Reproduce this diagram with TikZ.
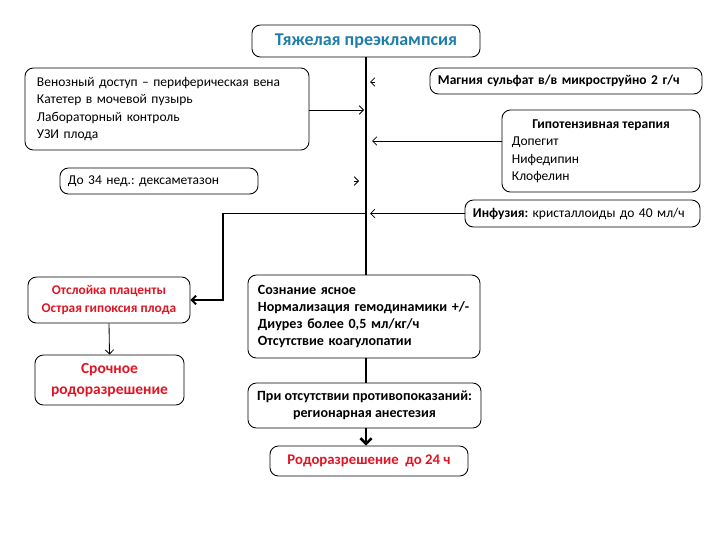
\documentclass[tikz,border=0pt]{standalone}
\usepackage{fontspec}
\setmainfont{Carlito}
\usetikzlibrary{arrows.meta}
\frenchspacing

\definecolor{titleblue}{RGB}{31,125,170}
\definecolor{alarmred}{RGB}{225,20,35}

\begin{document}
\begin{tikzpicture}[x=0.025cm, y=-0.025cm,
    >={Straight Barb[length=3pt,width=6pt]},
    box/.style={draw, rounded corners=6pt, line width=0.6pt, inner ysep=0pt},
    txt/.style={font=\fontsize{9.6}{12.2}\selectfont},
    link/.style={line width=0.6pt, ->},
    trunk/.style={line width=1.8pt},
    branch/.style={line width=1.4pt, ->}]
  \useasboundingbox (0,0) rectangle (720,540);

  \node[box, minimum width=5.7cm, minimum height=0.8cm, text=titleblue,
        font=\fontsize{12.8}{15}\selectfont\bfseries] (title) at (366,41) {Тяжелая преэклампсия};

  % left column
  \node[box, txt, text width=6.5cm, inner xsep=0.3cm, minimum height=2.05cm, align=left] (venous) at (167,109)
    {Венозный доступ -- периферическая вена\\Катетер в мочевой пузырь\\Лабораторный контроль\\УЗИ плода};
  \node[box, txt, text width=4.55cm, inner xsep=0.2cm, minimum height=0.65cm, align=left] (dexa) at (159,181)
    {До 34 нед.: дексаметазон};

  % right column
  \node[box, txt, text width=6.4cm, inner xsep=0.2cm, minimum height=0.65cm, align=left, font=\fontsize{9.6}{12.2}\selectfont\bfseries] (magnesium) at (566,81)
    {Магния сульфат в/в микроструйно 2 г/ч};
  \node[box, txt, inner xsep=0.25cm, minimum width=4.95cm, minimum height=2.05cm] (hypo) at (601,151)
    {\begin{tabular}{@{}p{4.45cm}@{}}\multicolumn{1}{@{}c@{}}{\bfseries Гипотензивная терапия}\\ Допегит\\ Нифедипин\\ Клофелин\end{tabular}};
  \node[box, txt, text width=5.475cm, inner xsep=0.2cm, minimum height=0.675cm, align=left] (infusion) at (582.5,213.5)
    {\textbf{Инфузия:} кристаллоиды до 40 мл/ч};

  % emergency branch
  \node[box, minimum width=4.05cm, minimum height=1.15cm, align=center, text=alarmred,
        font=\fontsize{9.5}{12.5}\selectfont\bfseries] (abruption) at (109,300)
    {Отслойка плаценты\\Острая гипоксия плода};
  \node[box, minimum width=3.725cm, minimum height=1.25cm, align=center, text=alarmred,
        font=\fontsize{11}{14.5}\selectfont\bfseries] (urgent) at (109.5,380)
    {Срочное\\родоразрешение};

  % main branch
  \node[box, txt, text width=5.3cm, inner xsep=0.25cm, minimum height=2.075cm, align=left,
        font=\fontsize{10}{12.2}\selectfont\bfseries] (status) at (364,316.5)
    {Сознание ясное\\Нормализация гемодинамики +/-\\Диурез более 0,5 мл/кг/ч\\Отсутствие коагулопатии};
  \node[box, minimum width=5.825cm, minimum height=1.125cm, align=center,
        font=\fontsize{10}{12.5}\selectfont\bfseries] (anest) at (364.5,405.5)
    {При отсутствии противопоказаний:\\регионарная анестезия};
  \node[box, minimum width=4.95cm, minimum height=0.75cm, text=alarmred,
        font=\fontsize{10.5}{12.5}\selectfont\bfseries] (delivery) at (369,461)
    {Родоразрешение\ \ до 24 ч};

  % trunk
  \draw[trunk] (title.south) -- (title.south |- status.north);
  \draw[trunk] (title.south |- status.south) -- (title.south |- anest.north);
  \draw[trunk, -{Straight Barb[length=4pt,width=8pt]}] (title.south |- anest.south) -- (title.south |- delivery.north);

  % inputs to the trunk
  \coordinate (mgtail) at (375,82);
  \coordinate (mgtip) at (370,82);
  \coordinate (dexatail) at (354,181);
  \coordinate (dexatip) at (359,181);
  \coordinate (venin) at (364,110);
  \coordinate (hypoin) at (372,141);
  \coordinate (infin) at (370,213.5);
  \draw[link] (mgtail) -- (mgtip);
  \draw[link] (dexatail) -- (dexatip);
  \draw[link] (venous.east |- venin) -- (venin);
  \draw[link] (hypo.west |- hypoin) -- (hypoin);
  \draw[link] (infusion.west) -- (infin);

  % to the emergency branch
  \coordinate (split) at (title.south |- infusion.west);
  \draw[branch] (split) -- ++(-143,0) |- (abruption.east);
  \draw[link] (abruption.south) -- (urgent.north);
\end{tikzpicture}
\end{document}
